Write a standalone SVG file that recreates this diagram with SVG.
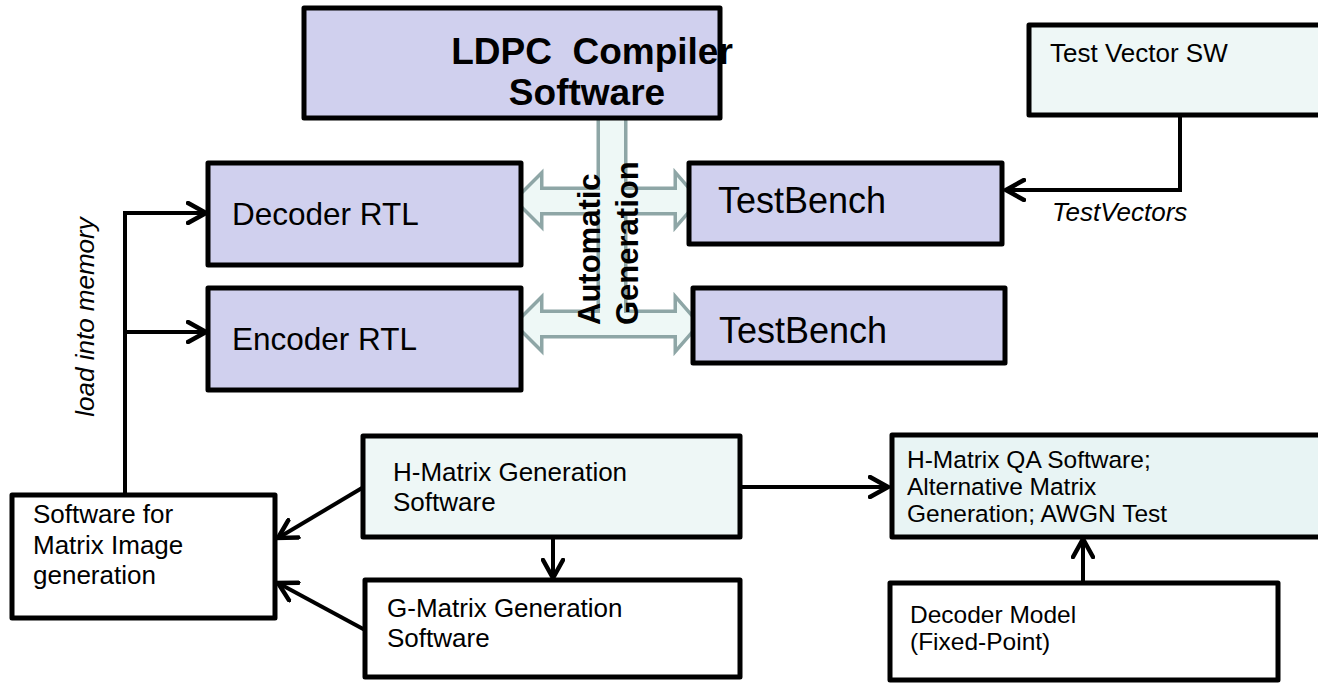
<svg xmlns="http://www.w3.org/2000/svg" width="1318" height="684" viewBox="0 0 1318 684">
<defs>
<style>
.box{stroke:#000;stroke-width:5;stroke-linejoin:round}
.lav{fill:#d0d0ee}
.cyan{fill:#eef7f6}
.cyan2{fill:#e8f4f4}
.white{fill:#fff}
.t{font-family:"Liberation Sans",Arial,sans-serif;fill:#000}
.conn{fill:none;stroke:#000;stroke-width:4}
.gs{stroke:#8ea6a6;stroke-width:7;fill:#8ea6a6;stroke-linejoin:miter}
.gf{fill:#eef8f6;stroke:none}
</style>
<marker id="ah" viewBox="0 0 22 24" refX="20" refY="12" markerWidth="22" markerHeight="24" markerUnits="userSpaceOnUse" orient="auto">
<path d="M2,2 L20,12 L2,22" fill="none" stroke="#000" stroke-width="4.5" stroke-linecap="round" stroke-linejoin="miter"/>
</marker>
</defs>
<rect width="1318" height="684" fill="#fff"/>

<g id="automatic-generation">
<g id="gen-outline">
<rect class="gs" x="600" y="118" width="24" height="216"/>
<polygon class="gs" points="517,200 540,177 540,190 677,190 677,177 697,200 677,223 677,212 540,212 540,223"/>
<polygon class="gs" points="517,324 540,301 540,313 677,313 677,301 697,324 677,347 677,335 540,335 540,347"/>
</g>
<g id="gen-fill">
<rect class="gf" x="600" y="118" width="24" height="216"/>
<polygon class="gf" points="517,200 540,177 540,190 677,190 677,177 697,200 677,223 677,212 540,212 540,223"/>
<polygon class="gf" points="517,324 540,301 540,313 677,313 677,301 697,324 677,347 677,335 540,335 540,347"/>
</g>
<text class="t" font-size="31" font-weight="bold" transform="translate(600,325) rotate(-90)">Automatic</text>
<text class="t" font-size="31" font-weight="bold" transform="translate(638,325) rotate(-90)">Generation</text>
</g>

<g id="ldpc">
<rect class="box lav" x="304" y="8" width="416" height="110"/>
<text class="t" font-size="37" font-weight="bold" x="592" y="64" text-anchor="middle" xml:space="preserve">LDPC  Compiler</text>
<text class="t" font-size="37" font-weight="bold" x="587" y="105" text-anchor="middle">Software</text>
</g>

<g id="decoder-rtl">
<rect class="box lav" x="208" y="163" width="313" height="102"/>
<text class="t" font-size="31.5" x="232" y="225">Decoder RTL</text>
</g>

<g id="encoder-rtl">
<rect class="box lav" x="208" y="288" width="313" height="102"/>
<text class="t" font-size="31.5" x="232" y="350">Encoder RTL</text>
</g>

<g id="testbench-1">
<rect class="box lav" x="689" y="163" width="313" height="81"/>
<text class="t" font-size="36" x="718" y="213">TestBench</text>
</g>

<g id="testbench-2">
<rect class="box lav" x="693" y="288" width="312" height="75"/>
<text class="t" font-size="36" x="719" y="343">TestBench</text>
</g>

<g id="test-vector-sw">
<rect class="box cyan" x="1029" y="25" width="300" height="90"/>
<text class="t" font-size="26" x="1050" y="62">Test Vector SW</text>
</g>

<g id="matrix-image-sw">
<rect class="box white" x="12" y="495" width="263" height="123"/>
<text class="t" font-size="26" x="33" y="523">Software for</text>
<text class="t" font-size="26" x="33" y="554">Matrix Image</text>
<text class="t" font-size="26" x="33" y="584">generation</text>
</g>

<g id="h-matrix-gen">
<rect class="box cyan" x="363" y="436" width="377" height="101"/>
<text class="t" font-size="26" x="393" y="481">H-Matrix Generation</text>
<text class="t" font-size="26" x="393" y="511">Software</text>
</g>

<g id="g-matrix-gen">
<rect class="box white" x="365" y="580" width="375" height="97"/>
<text class="t" font-size="26" x="387" y="617">G-Matrix Generation</text>
<text class="t" font-size="26" x="387" y="647">Software</text>
</g>

<g id="h-matrix-qa">
<rect class="box cyan2" x="892" y="435" width="440" height="102"/>
<text class="t" font-size="24.5" x="907" y="468">H-Matrix QA Software;</text>
<text class="t" font-size="24.5" x="907" y="495">Alternative Matrix</text>
<text class="t" font-size="24.5" x="907" y="522">Generation; AWGN Test</text>
</g>

<g id="decoder-model">
<rect class="box white" x="890" y="583" width="388" height="97"/>
<text class="t" font-size="24.5" x="910" y="623">Decoder Model</text>
<text class="t" font-size="24.5" x="910" y="650">(Fixed-Point)</text>
</g>

<g id="connectors">
<path class="conn" d="M1180,115 V190 H1006" marker-end="url(#ah)"/>
<path class="conn" d="M125,495 V213 H206" marker-end="url(#ah)"/>
<path class="conn" d="M125,332 H206" marker-end="url(#ah)"/>
<path class="conn" d="M362,488 L278,538" marker-end="url(#ah)"/>
<path class="conn" d="M365,630 L278,583" marker-end="url(#ah)"/>
<path class="conn" d="M553,537 V578" marker-end="url(#ah)"/>
<path class="conn" d="M740,487 H888" marker-end="url(#ah)"/>
<path class="conn" d="M1083,583 V539" marker-end="url(#ah)"/>
<text class="t" font-size="26" font-style="italic" x="1052" y="221">TestVectors</text>
<text class="t" font-size="26" font-style="italic" transform="translate(94,317) rotate(-90)" text-anchor="middle">load into memory</text>
</g>
</svg>
